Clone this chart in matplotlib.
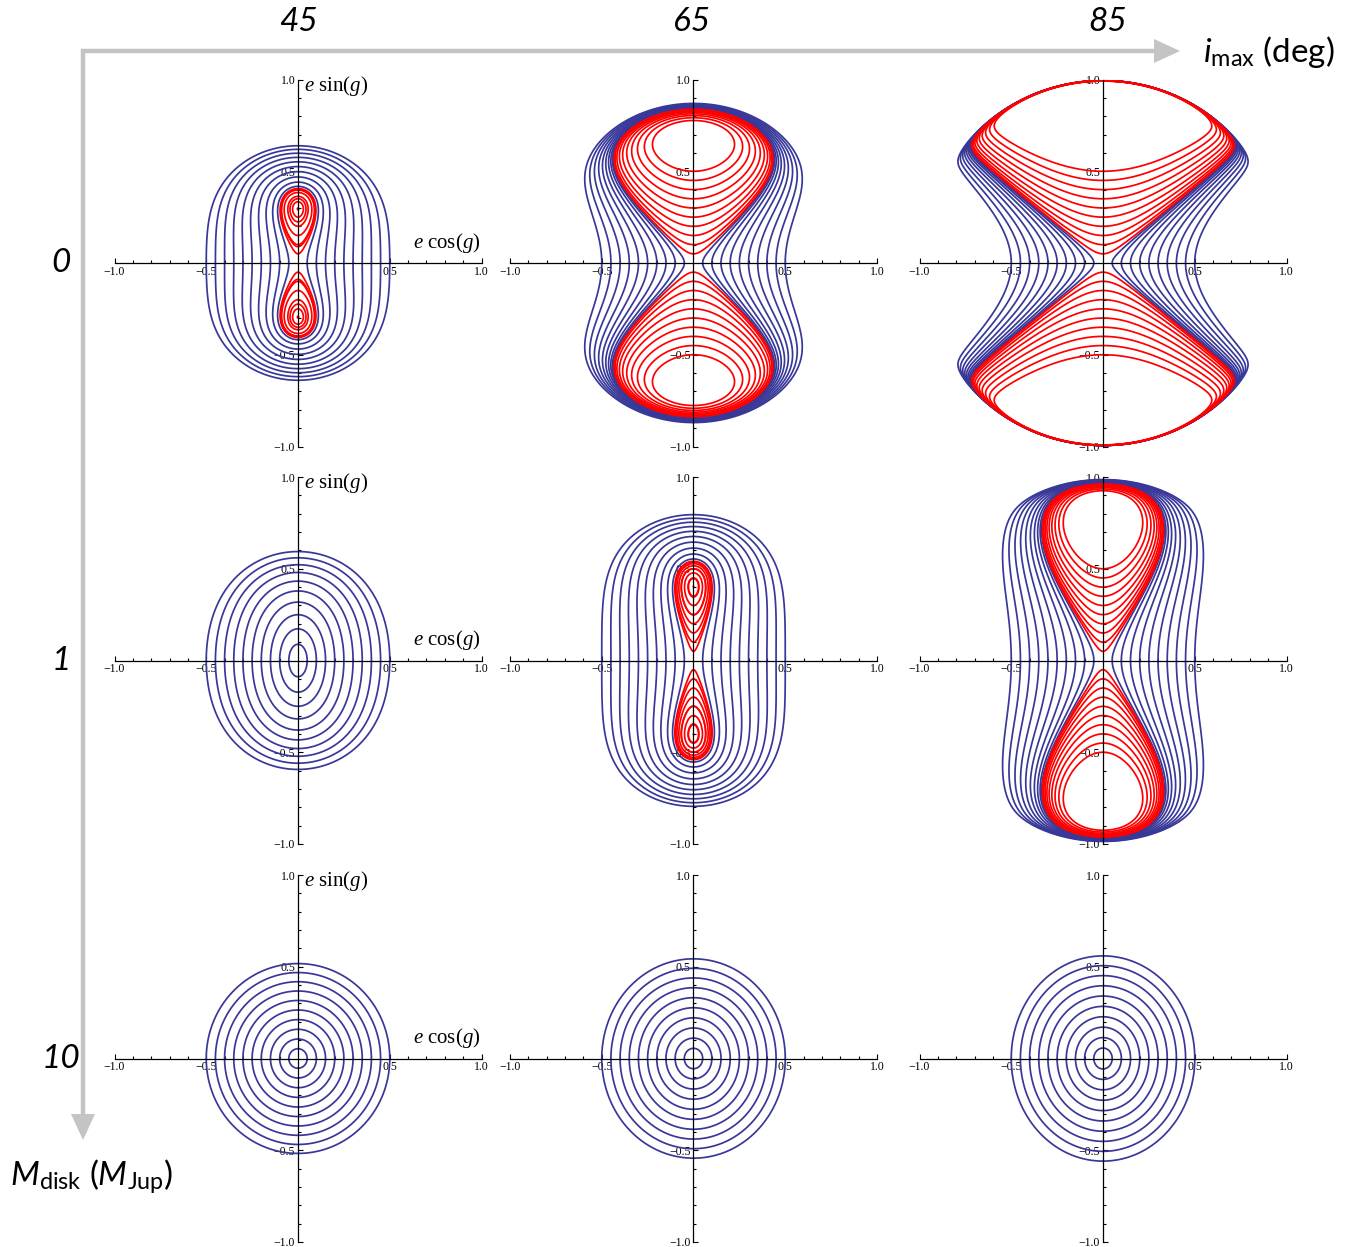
import numpy as np
import matplotlib
matplotlib.use("Agg")
import matplotlib.pyplot as plt
from matplotlib.patches import FancyArrow

# grid parameters (columns: maximum inclination, rows: disc mass)
i_max_deg = [45, 65, 85]
m_disk = [0, 1, 10]
disk_labels = ['0', '1', '10']
# strength of the disc-induced precession term for each disc mass
disk_beta = [0.0, 9.9, 119.0]
disk_k = 0.6   # higher-order eccentricity term of the disc precession
# starting points of the trajectories on each axis
x_starts = [0.05, 0.10, 0.15, 0.20, 0.25, 0.30, 0.35, 0.40, 0.45, 0.50]
y_starts = [0.05, 0.10, 0.15, 0.20, 0.25, 0.30, 0.35, 0.40, 0.45, 0.50]

major_ticks = [-1.0, -0.5, 0.5, 1.0]
major_labels = ['\u22121.0', '\u22120.5', '0.5', '1.0']
minor_ticks = [-0.9, -0.8, -0.7, -0.6, -0.4, -0.3, -0.2, -0.1,
               0.1, 0.2, 0.3, 0.4, 0.6, 0.7, 0.8, 0.9]

BLUE = '#383899'
RED = '#ff0000'
GREY = '#c4c4c4'

W, H = 1359, 1247
col_cx = [298, 693.5, 1103]
row_cy = [263, 660.5, 1058.5]
half = 183.5
title_x = [298, 692, 1108]

plt.rcParams['mathtext.fontset'] = 'custom'
plt.rcParams['mathtext.rm'] = 'Liberation Serif'
plt.rcParams['mathtext.it'] = 'Liberation Serif:italic'
plt.rcParams['mathtext.cal'] = 'Lato:italic'
plt.rcParams['mathtext.sf'] = 'Lato'
plt.rcParams['contour.negative_linestyle'] = 'solid'


def hamiltonian(e, g, theta2, beta):
    c2 = theta2 / (1.0 - e**2)
    s2 = 1.0 - c2
    kozai = (2 + 3 * e**2) * (3 * c2 - 1) + 15 * e**2 * s2 * np.cos(2 * g)
    disc = beta * (e**2 + disk_k * e**6)
    return kozai + disc


def clean_levels(vals):
    vals = sorted(vals)
    out = []
    for v in vals:
        if not out or v - out[-1] > 1e-9:
            out.append(v)
    return out


def draw_panel(ax, inc_deg, beta, labels=False):
    inc = np.radians(inc_deg)
    theta2 = np.cos(inc)**2
    emax = np.sin(inc)
    e = np.linspace(0.0, emax * (1 - 1e-7), 700)
    g = np.linspace(0.0, 2 * np.pi, 1441)
    E, G = np.meshgrid(e, g)
    Hm = hamiltonian(E, G, theta2, beta)
    X, Y = E * np.cos(G), E * np.sin(G)

    h0 = hamiltonian(0.0, 0.0, theta2, beta)
    blue = [hamiltonian(x, 0.0, theta2, beta) for x in x_starts if x < emax]
    red = []
    for y in y_starts:
        if y >= emax:
            continue
        h = hamiltonian(y, np.pi / 2, theta2, beta)
        if h < h0 - 1e-9:
            red.append(h)

    ax.contour(X, Y, Hm, levels=clean_levels(blue), colors=BLUE,
               linewidths=1.25, linestyles='solid', zorder=2)
    if red:
        ax.contour(X, Y, Hm, levels=clean_levels(red), colors=RED,
                   linewidths=1.25, linestyles='solid', zorder=3)

    ax.set_xlim(-1, 1)
    ax.set_ylim(-1, 1)
    ax.set_facecolor('none')
    for s in ['top', 'right']:
        ax.spines[s].set_visible(False)
    for s in ['left', 'bottom']:
        ax.spines[s].set_position('zero')
        ax.spines[s].set_linewidth(0.9)
        ax.spines[s].set_zorder(4)
    ax.set_xticks(major_ticks)
    ax.set_xticklabels(major_labels)
    ax.set_yticks(major_ticks)
    ax.set_yticklabels(major_labels)
    ax.set_xticks(minor_ticks, minor=True)
    ax.set_yticks(minor_ticks, minor=True)
    ax.tick_params(which='both', direction='in', width=0.8, pad=2,
                   labelsize=8.5)
    ax.tick_params(which='major', length=3.5)
    ax.tick_params(which='minor', length=2)
    for lab in ax.get_xticklabels() + ax.get_yticklabels():
        lab.set_fontfamily('Liberation Serif')

    if labels:
        ax.text(0.995, 0.045, r'$e\ \cos(g)$', ha='right', va='bottom',
                fontsize=15)
        ax.text(0.035, 0.965, r'$e\ \sin(g)$', ha='left', va='center',
                fontsize=15)


fig = plt.figure(figsize=(W / 100, H / 100), dpi=100)
fig.patch.set_facecolor('white')

# background layer in pixel coordinates for the big arrows
bg = fig.add_axes([0, 0, 1, 1])
bg.set_xlim(0, W)
bg.set_ylim(H, 0)
bg.axis('off')
bg.add_patch(FancyArrow(81, 51, 1180 - 81, 0, width=4.5, head_width=24,
                        head_length=26, length_includes_head=True,
                        color=GREY, lw=0))
bg.add_patch(FancyArrow(83, 49, 0, 1140 - 49, width=4.5, head_width=24,
                        head_length=26, length_includes_head=True,
                        color=GREY, lw=0))

for r, beta in enumerate(disk_beta):
    for c, inc in enumerate(i_max_deg):
        cx, cy = col_cx[c], row_cy[r]
        ax = fig.add_axes([(cx - half) / W, 1 - (cy + half) / H,
                           2 * half / W, 2 * half / H])
        draw_panel(ax, inc, beta, labels=(c == 0))

big = dict(fontfamily='Lato', fontsize=24)
for c, inc in enumerate(i_max_deg):
    fig.text(title_x[c] / W, 1 - 22 / H, str(inc), ha='center', va='center',
             style='italic', **big)
fig.text(1203 / W, 1 - 52 / H, r'$\mathcal{i}_{\mathsf{max}}$ (deg)',
         ha='left', va='center', **big)
for r, lab in enumerate(disk_labels):
    fig.text(61 / W, 1 - row_cy[r] / H, lab, ha='center', va='center',
             style='italic', **big)
fig.text(10 / W, 1 - 1177 / H,
         r'$\mathcal{M}_{\mathsf{disk}}$ ($\mathcal{M}_{\mathsf{Jup}}$)',
         ha='left', va='center', **big)

fig.savefig('out.png', dpi=100)
